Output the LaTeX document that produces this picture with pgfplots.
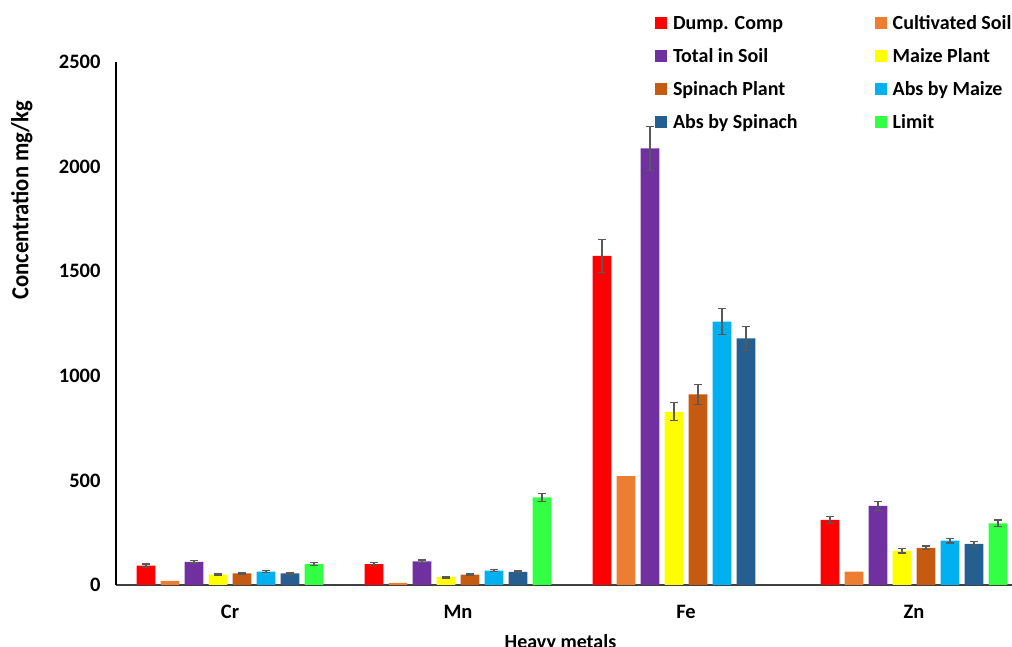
\documentclass[border=0pt]{standalone}
\usepackage{fontspec}
\setmainfont{Carlito}
\newfontfamily\ylabfont[FakeStretch=0.92]{Carlito}
\usepackage{pgfplots}
\pgfplotsset{compat=1.18}
\definecolor{cRed}{HTML}{FF0000}
\definecolor{cOrange}{HTML}{ED7D31}
\definecolor{cPurple}{HTML}{7030A0}
\definecolor{cYellow}{HTML}{FFFF00}
\definecolor{cBrown}{HTML}{C55A11}
\definecolor{cCyan}{HTML}{00B0F0}
\definecolor{cDkBlue}{HTML}{255E91}
\definecolor{cGreen}{HTML}{33FF44}
\definecolor{errgray}{HTML}{595959}
\begin{document}
\begin{tikzpicture}[x=1pt,y=1pt]
\useasboundingbox (0,0) rectangle (1012,647);
\begin{axis}[
  at={(116pt,62pt)}, anchor=south west,
  scale only axis, width=896pt, height=523pt,
  ybar=5.4pt, bar width=18.6pt,
  xmin=-0.5, xmax=3.43, ymin=0, ymax=2500,
  xtick={0,1,2,3}, xticklabels={Cr,Mn,Fe,Zn},
  ytick={0,500,1000,1500,2000,2500},
  axis lines*=left,
  major tick length=0pt,
  x axis line style={draw=black!75, line width=2pt},
  y axis line style={draw=black, line width=1.3pt},
  tick label style={font=\fontsize{20.5}{24}\selectfont\bfseries},
  /pgf/number format/assume math mode=true,
  /pgf/number format/1000 sep={},
  yticklabel style={xshift=-12pt},
  xticklabel style={yshift=-17pt},
  ylabel={Concentration mg/kg},
  ylabel style={font=\ylabfont\fontsize{24.5}{28}\selectfont\bfseries, at={(axis description cs:-0.105,0.736)}, anchor=center},
  xlabel={Heavy metals},
  xlabel style={font=\fontsize{20}{24}\selectfont\bfseries, at={(axis description cs:0.496,-0.088)}, anchor=north},
  legend columns=2,
  legend style={draw=none, fill=none, at={(axis description cs:0.598,1.097)}, anchor=north west,
    font=\fontsize{20}{24}\selectfont\bfseries, row sep=13.3pt,
    /tikz/every even column/.append style={column sep=75pt}},
  legend image code/.code={\fill[#1] (0pt,-6pt) rectangle (12pt,6pt); \path (0pt,0pt) -- (16pt,0pt);},
  legend cell align=left,
  error bars/y dir=both, error bars/y explicit,
  error bars/error bar style={line width=1.3pt, draw=errgray},
  error bars/error mark options={rotate=90, mark size=4pt, line width=1.3pt, draw=errgray},
]
% Dump. Comp
\addplot[fill=cRed, draw=none, error bars/.cd, y dir=both, y explicit] table[x=x, y=y, y error=e] {
x y e
0 92 8
1 100 7
2 1573 80
3 311 17
};
% Cultivated Soil
\addplot[fill=cOrange, draw=none] table[x=x, y=y] {
x y
0 20
1 10
2 521
3 64
};
% Total in Soil
\addplot[fill=cPurple, draw=none, error bars/.cd, y dir=both, y explicit] table[x=x, y=y, y error=e] {
x y e
0 111 6
1 113 6
2 2087 105
3 378 21
};
% Maize Plant
\addplot[fill=cYellow, draw=none, error bars/.cd, y dir=both, y explicit] table[x=x, y=y, y error=e] {
x y e
0 49 4
1 38 4
2 828 43
3 163 10
};
% Spinach Plant
\addplot[fill=cBrown, draw=none, error bars/.cd, y dir=both, y explicit] table[x=x, y=y, y error=e] {
x y e
0 56 3
1 50 3
2 911 47
3 178 9
};
% Abs by Maize
\addplot[fill=cCyan, draw=none, error bars/.cd, y dir=both, y explicit] table[x=x, y=y, y error=e] {
x y e
0 64 5
1 69 4
2 1259 63
3 212 11
};
% Abs by Spinach
\addplot[fill=cDkBlue, draw=none, error bars/.cd, y dir=both, y explicit] table[x=x, y=y, y error=e] {
x y e
0 56 4
1 63 4
2 1179 58
3 196 12
};
% Limit
\addplot[fill=cGreen, draw=none, error bars/.cd, y dir=both, y explicit] table[x=x, y=y, y error=e] {
x y e
0 100 7
1 419 20
3 295 15
};
\legend{Dump. Comp, Cultivated Soil, Total in Soil, Maize Plant, Spinach Plant, Abs by Maize, Abs by Spinach, Limit}
\end{axis}
\end{tikzpicture}
\end{document}
